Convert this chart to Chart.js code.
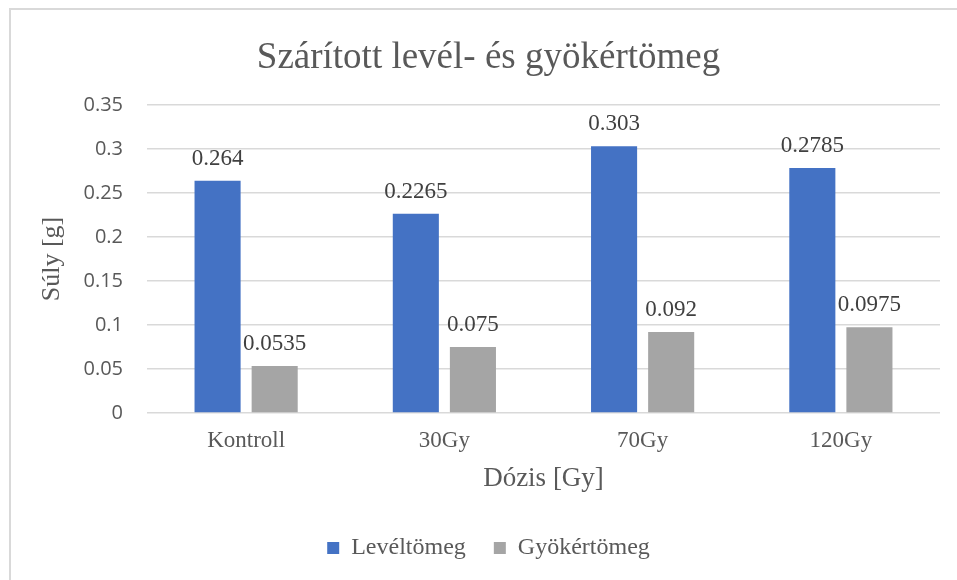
<!DOCTYPE html>
<html>
<head>
<meta charset="utf-8">
<script src="https://cdn.jsdelivr.net/npm/chart.js@4"></script>
<style>
    body { margin: 0; background: #fff; }
    #wrap { position: relative; width: 957px; height: 580px; }
    #frame { position: absolute; left: 9px; top: 8px; right: 0; bottom: 0;
             border-top: 2px solid #d9d9d9; border-left: 2px solid #d9d9d9; pointer-events: none; }
</style>
</head>
<body>
<div id="wrap">
    <canvas id="chart" width="957" height="580"></canvas>
    <div id="frame"></div>
</div>
<script>
const categories = ["Kontroll", "30Gy", "70Gy", "120Gy"];
const levelTomeg = [0.264, 0.2265, 0.303, 0.2785];
const gyokerTomeg = [0.0535, 0.075, 0.092, 0.0975];
const yTickLabels = ["0", "0.05", "0.1", "0.15", "0.2", "0.25", "0.3", "0.35"];

const serif = "'Liberation Serif', 'Times New Roman', serif";
const gray = "#595959";

// value labels above each bar
const valueLabels = {
    id: "valueLabels",
    afterDatasetsDraw(chart) {
        const ctx = chart.ctx;
        ctx.save();
        ctx.font = `23px ${serif}`;
        ctx.fillStyle = "#404040";
        ctx.textAlign = "center";
        ctx.textBaseline = "alphabetic";
        chart.data.datasets.forEach((ds, i) => {
            chart.getDatasetMeta(i).data.forEach((bar, j) => {
                ctx.fillText(String(ds.data[j]), bar.x, bar.y - 16);
            });
        });
        ctx.restore();
    }
};

new Chart(document.getElementById("chart"), {
    type: "bar",
    data: {
        labels: categories,
        datasets: [{
            label: "Levéltömeg",
            data: levelTomeg,
            backgroundColor: "#4472C4",
            categoryPercentage: 0.576,
            barPercentage: 0.807
        }, {
            label: "Gyökértömeg",
            data: gyokerTomeg,
            backgroundColor: "#A5A5A5",
            categoryPercentage: 0.576,
            barPercentage: 0.807
        }]
    },
    options: {
        responsive: false,
        animation: false,
        layout: { padding: { top: 10, left: 37, right: 17, bottom: 10 } },
        plugins: {
            title: {
                display: true,
                text: "Szárított levél- és gyökértömeg",
                color: gray,
                font: { family: serif, size: 37, weight: "normal" },
                padding: { top: 26, bottom: 24.6 }
            },
            legend: {
                position: "bottom",
                labels: {
                    color: gray,
                    font: { family: serif, size: 24 },
                    boxWidth: 12,
                    boxHeight: 12,
                    padding: 28
                }
            },
            tooltip: { enabled: false }
        },
        scales: {
            x: {
                grid: { display: false, drawTicks: false },
                border: { display: false },
                ticks: { color: gray, font: { family: serif, size: 23 }, padding: 14 },
                title: {
                    display: true,
                    text: "Dózis [Gy]",
                    color: gray,
                    font: { family: serif, size: 27 },
                    padding: { top: 0, bottom: 12.4 }
                },
                afterFit: s => { s.height = 95; }
            },
            y: {
                min: 0,
                max: 0.35,
                grid: { color: "#d9d9d9", lineWidth: 1.5, drawTicks: false },
                border: { display: false },
                ticks: {
                    stepSize: 0.05,
                    color: gray,
                    font: { family: "'Open Sans', sans-serif", size: 20 },
                    padding: 24,
                    callback: (v, i) => yTickLabels[i]
                },
                title: {
                    display: true,
                    text: "Súly [g]",
                    color: gray,
                    font: { family: serif, size: 26 },
                    padding: { top: 0, bottom: 15 }
                },
                afterFit: s => { s.width = 110; }
            }
        }
    },
    plugins: [valueLabels]
});
</script>
</body>
</html>
